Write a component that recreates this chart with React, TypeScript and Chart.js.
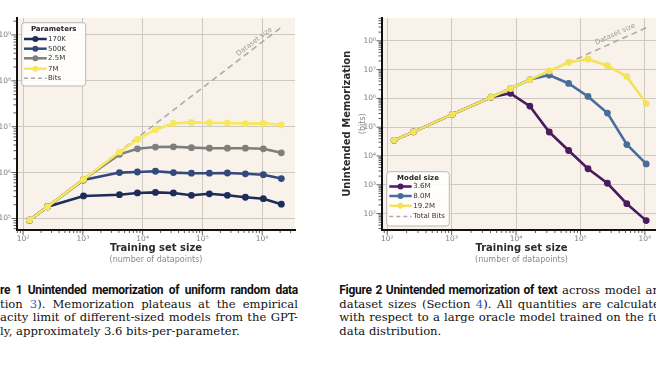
import React, { useEffect, useRef } from 'react';
import { Chart, registerables } from 'chart.js';

Chart.register(...registerables);

// ---------- Figure 1 data (uniform random data) ----------
const fig1X = [128, 256, 1024, 4096, 8192, 16384, 32768, 65536, 131072, 262144, 524288, 1048576, 2097152];
const fig1P170K = [9.2e4, 1.8e5, 3.1e5, 3.3e5, 3.6e5, 3.7e5, 3.6e5, 3.2e5, 3.45e5, 3.2e5, 2.9e5, 2.7e5, 2.05e5];
const fig1P500K = [9.2e4, 1.8e5, 6.9e5, 1.0e6, 1.03e6, 1.07e6, 1.0e6, 0.97e6, 0.97e6, 0.98e6, 0.94e6, 0.9e6, 7.4e5];
const fig1P2_5M = [9.2e4, 1.8e5, 7.1e5, 2.5e6, 3.3e6, 3.6e6, 3.65e6, 3.5e6, 3.4e6, 3.4e6, 3.4e6, 3.3e6, 2.7e6];
const fig1P7M = [9.2e4, 1.8e5, 7.1e5, 2.8e6, 5.3e6, 8.6e6, 1.18e7, 1.24e7, 1.22e7, 1.2e7, 1.17e7, 1.18e7, 1.1e7];
const fig1BitsX = [128, 2097152];
const fig1BitsY = [9.0e4, 1.47e9];
const fig1Labels = ['170K', '500K', '2.5M', '7M', 'Bits'];

// ---------- Figure 2 data (text) ----------
const fig2X = [128, 256, 1024, 4096, 8192, 16384, 32768, 65536, 131072, 262144, 524288, 1048576];
const fig2M3_6 = [3.5e4, 6.9e4, 2.8e5, 1.1e6, 1.5e6, 5.4e5, 6.8e4, 1.55e4, 3.6e3, 1.13e3, 2.2e2, 57];
const fig2M8_0 = [3.5e4, 6.9e4, 2.8e5, 1.1e6, 2.2e6, 4.5e6, 6.5e6, 3.3e6, 1.17e6, 3.1e5, 2.5e4, 5.3e3];
const fig2M19_2 = [3.5e4, 6.9e4, 2.8e5, 1.1e6, 2.2e6, 4.5e6, 9.0e6, 1.8e7, 2.3e7, 1.36e7, 5.8e6, 6.6e5];
const fig2BitsX = [128, 1048576];
const fig2BitsY = [3.46e4, 2.83e8];
const fig2Labels = ['3.6M', '8.0M', '19.2M', 'Total Bits'];

const SUP = ['⁰', '¹', '²', '³', '⁴', '⁵', '⁶', '⁷', '⁸', '⁹'];
const GRID = '#cdc8c1';
const BG = '#f8f2ea';
const FONT = '"DejaVu Sans", sans-serif';

function isPow10(v: number) {
  if (!(v > 0)) return false;
  const e = Math.round(Math.log10(v));
  return Math.abs(v / Math.pow(10, e) - 1) < 1e-6;
}
function pow10Label(v: number) {
  if (!isPow10(v)) return '';
  const e = Math.round(Math.log10(v));
  return '10' + String(e).split('').map((c) => SUP[+c]).join('');
}

type Series = { label: string; color: string; xs: number[]; ys: number[]; dashed?: boolean; order: number };
type LegendSpec = { box: [number, number, number, number]; title: string; titleY: number; itemsY: number[]; lineX: [number, number]; textX: number };
type PanelSpec = {
  left: number; width: number; height: number;
  padding: { left: number; right: number; top: number; bottom: number };
  yWidth: number; xHeight: number;
  xMin: number; xMax: number; yMin: number; yMax: number;
  series: Series[];
  legend: LegendSpec;
  dsText: { x: number; y: number };
  yTitle: boolean;
};

function roundRect(ctx: CanvasRenderingContext2D, x: number, y: number, w: number, h: number, r: number) {
  ctx.beginPath();
  ctx.moveTo(x + r, y);
  ctx.lineTo(x + w - r, y);
  ctx.arcTo(x + w, y, x + w, y + r, r);
  ctx.lineTo(x + w, y + h - r);
  ctx.arcTo(x + w, y + h, x + w - r, y + h, r);
  ctx.lineTo(x + r, y + h);
  ctx.arcTo(x, y + h, x, y + h - r, r);
  ctx.lineTo(x, y + r);
  ctx.arcTo(x, y, x + r, y, r);
  ctx.closePath();
}

function makePlugin(spec: PanelSpec) {
  return {
    id: 'panelExtras',
    beforeDraw(chart: any) {
      const { ctx, chartArea: a } = chart;
      ctx.save();
      ctx.fillStyle = BG;
      ctx.fillRect(a.left, a.top, a.right - a.left, a.bottom - a.top);
      ctx.restore();
    },
    afterDraw(chart: any) {
      const { ctx, chartArea: a } = chart;
      const xs = chart.scales.x;
      const ys = chart.scales.y;
      ctx.save();
      const eachTick = (scale: any, cb: (p: number, major: boolean) => void) => {
        const e0 = Math.floor(Math.log10(scale.min));
        const e1 = Math.ceil(Math.log10(scale.max));
        for (let e = e0; e <= e1; e++) {
          for (let m = 1; m <= 9; m++) {
            const v = m * Math.pow(10, e);
            if (v < scale.min || v > scale.max) continue;
            cb(scale.getPixelForValue(v), m === 1);
          }
        }
      };
      ctx.strokeStyle = '#333';
      ctx.lineWidth = 0.8;
      ctx.beginPath();
      eachTick(xs, (p, major) => {
        const l = major ? 4.5 : 2.5;
        ctx.moveTo(p, a.bottom + 1);
        ctx.lineTo(p, a.bottom + 1 + l);
      });
      eachTick(ys, (p, major) => {
        const l = major ? 4.5 : 2.5;
        ctx.moveTo(a.left - 1, p);
        ctx.lineTo(a.left - 1 - l, p);
      });
      ctx.stroke();

      const bits = spec.series.find((s) => s.dashed)!;
      const ang = Math.atan2(
        ys.getPixelForValue(bits.ys[1]) - ys.getPixelForValue(bits.ys[0]),
        xs.getPixelForValue(bits.xs[1]) - xs.getPixelForValue(bits.xs[0])
      );
      ctx.save();
      ctx.translate(xs.getPixelForValue(spec.dsText.x), ys.getPixelForValue(spec.dsText.y));
      ctx.rotate(ang);
      ctx.fillStyle = '#9c9c9c';
      ctx.font = `7px ${FONT}`;
      ctx.textAlign = 'center';
      ctx.textBaseline = 'middle';
      ctx.fillText('Dataset size', 0, 0);
      ctx.restore();

      const L = spec.legend;
      const [bx, by, bw, bh] = L.box;
      roundRect(ctx, bx, by, bw, bh, 3);
      ctx.fillStyle = 'rgba(255,255,255,0.88)';
      ctx.fill();
      ctx.strokeStyle = '#b8b8b8';
      ctx.lineWidth = 1;
      ctx.stroke();
      ctx.fillStyle = '#222';
      ctx.font = `bold 7px ${FONT}`;
      ctx.textAlign = 'center';
      ctx.textBaseline = 'middle';
      ctx.fillText(L.title, bx + bw / 2, L.titleY);
      spec.series.forEach((s, i) => {
        const y = L.itemsY[i];
        const [x0, x1] = L.lineX;
        ctx.beginPath();
        ctx.moveTo(x0, y);
        ctx.lineTo(x1, y);
        if (s.dashed) {
          ctx.setLineDash([4, 3]);
          ctx.strokeStyle = s.color;
          ctx.lineWidth = 1.5;
          ctx.stroke();
          ctx.setLineDash([]);
        } else {
          ctx.strokeStyle = s.color;
          ctx.lineWidth = 2.5;
          ctx.stroke();
          ctx.beginPath();
          ctx.arc((x0 + x1) / 2, y, 3, 0, Math.PI * 2);
          ctx.fillStyle = s.color;
          ctx.fill();
        }
        ctx.fillStyle = '#333';
        ctx.font = `7px ${FONT}`;
        ctx.textAlign = 'left';
        ctx.fillText(s.label, L.textX, y);
      });

      const cx = (a.left + a.right) / 2;
      ctx.textAlign = 'center';
      ctx.textBaseline = 'middle';
      ctx.fillStyle = '#2b2b2b';
      ctx.font = `bold 10px ${FONT}`;
      ctx.fillText('Training set size', cx, 248.5);
      ctx.fillStyle = '#8a8a8a';
      ctx.font = `8px ${FONT}`;
      ctx.fillText('(number of datapoints)', cx, 260);
      if (spec.yTitle) {
        const cy = (a.top + a.bottom) / 2;
        ctx.save();
        ctx.translate(17, cy);
        ctx.rotate(-Math.PI / 2);
        ctx.fillStyle = '#2b2b2b';
        ctx.font = `bold 10px ${FONT}`;
        ctx.fillText('Unintended Memorization', 0, 0);
        ctx.restore();
        ctx.save();
        ctx.translate(33, cy);
        ctx.rotate(-Math.PI / 2);
        ctx.fillStyle = '#8a8a8a';
        ctx.font = `8px ${FONT}`;
        ctx.fillText('(bits)', 0, 0);
        ctx.restore();
      }
      ctx.restore();
    },
  };
}

function Panel({ spec }: { spec: PanelSpec }) {
  const ref = useRef<HTMLCanvasElement>(null);
  useEffect(() => {
    const gridColor = (c: any) => (c.tick && isPow10(c.tick.value) ? GRID : 'rgba(0,0,0,0)');
    const tickStyle = {
      autoSkip: false,
      maxRotation: 0,
      minRotation: 0,
      font: { size: 7.5, family: FONT },
      color: '#7d7d7d',
      callback: (v: any) => pow10Label(Number(v)),
    };
    const chart = new Chart(ref.current as HTMLCanvasElement, {
      type: 'line',
      data: {
        datasets: spec.series.map((s) => ({
          label: s.label,
          data: s.xs.map((x, i) => ({ x, y: s.ys[i] })),
          borderColor: s.color,
          backgroundColor: s.color,
          borderWidth: s.dashed ? 1.6 : 2.6,
          borderDash: s.dashed ? [6, 4] : [],
          pointRadius: s.dashed ? 0 : 3.4,
          pointBorderWidth: 0,
          pointBackgroundColor: s.color,
          tension: 0,
          order: s.order,
          fill: false,
        })),
      },
      options: {
        responsive: false,
        maintainAspectRatio: false,
        animation: false,
        devicePixelRatio: 1,
        layout: { padding: spec.padding },
        plugins: { legend: { display: false }, tooltip: { enabled: false }, title: { display: false } },
        scales: {
          x: {
            type: 'logarithmic',
            min: spec.xMin,
            max: spec.xMax,
            afterFit: (s: any) => { s.height = spec.xHeight; },
            grid: { color: gridColor, lineWidth: 1, drawTicks: false },
            border: { display: true, color: '#111', width: 2 },
            ticks: { ...tickStyle, padding: 5 },
          },
          y: {
            type: 'logarithmic',
            min: spec.yMin,
            max: spec.yMax,
            afterFit: (s: any) => { s.width = spec.yWidth; },
            grid: { color: gridColor, lineWidth: 1, drawTicks: false },
            border: { display: true, color: '#111', width: 2 },
            ticks: { ...tickStyle, padding: 6 },
          },
        },
      } as any,
      plugins: [makePlugin(spec)],
    });
    return () => chart.destroy();
  }, [spec]);
  return (
    <canvas
      ref={ref}
      width={spec.width}
      height={spec.height}
      style={{ position: 'absolute', left: spec.left, top: 0, width: spec.width, height: spec.height }}
    />
  );
}

const fig1Spec: PanelSpec = {
  left: -13, width: 313, height: 270,
  padding: { left: 0, right: 5, top: 18, bottom: 0 },
  yWidth: 30, xHeight: 40.5,
  xMin: 79, xMax: 3.55e6, yMin: 5.75e4, yMax: 2.34e9,
  series: [
    { label: fig1Labels[0], color: '#1c2d59', xs: fig1X, ys: fig1P170K, order: 4 },
    { label: fig1Labels[1], color: '#33497b', xs: fig1X, ys: fig1P500K, order: 3 },
    { label: fig1Labels[2], color: '#7e7e7c', xs: fig1X, ys: fig1P2_5M, order: 2 },
    { label: fig1Labels[3], color: '#f6e75c', xs: fig1X, ys: fig1P7M, order: 1 },
    { label: fig1Labels[4], color: '#ababab', xs: fig1BitsX, ys: fig1BitsY, dashed: true, order: 10 },
  ],
  legend: {
    box: [34.7, 22.7, 64, 63.3],
    title: 'Parameters',
    titleY: 29.5,
    itemsY: [39, 48.7, 58.3, 68.7, 78.3],
    lineX: [37, 59.7],
    textX: 61,
  },
  dsText: { x: 7.4e5, y: 7.1e8 },
  yTitle: false,
};

const fig2Spec: PanelSpec = {
  left: 330, width: 340, height: 270,
  padding: { left: 0, right: 9, top: 18, bottom: 0 },
  yWidth: 52, xHeight: 40.5,
  xMin: 83, xMax: 1.78e6, yMin: 28, yMax: 6.2e8,
  series: [
    { label: fig2Labels[0], color: '#4a1b5d', xs: fig2X, ys: fig2M3_6, order: 3 },
    { label: fig2Labels[1], color: '#476e9b', xs: fig2X, ys: fig2M8_0, order: 2 },
    { label: fig2Labels[2], color: '#f4e35a', xs: fig2X, ys: fig2M19_2, order: 1 },
    { label: fig2Labels[3], color: '#ababab', xs: fig2BitsX, ys: fig2BitsY, dashed: true, order: 10 },
  ],
  legend: {
    box: [56.7, 171.7, 62.6, 54.3],
    title: 'Model size',
    titleY: 177.8,
    itemsY: [186.5, 196, 205.8, 216.5],
    lineX: [59.3, 81.7],
    textX: 83.3,
  },
  dsText: { x: 3.47e5, y: 1.7e8 },
  yTitle: true,
};

const serif = '"DejaVu Serif", "Liberation Serif", serif';
const sansBold = 'Roboto, "Open Sans", sans-serif';
const LINK = '#3158d4';

const lineStyle = (justify: boolean): React.CSSProperties => ({
  height: 13.6,
  lineHeight: '13.6px',
  whiteSpace: 'nowrap',
  textAlign: justify ? 'justify' : 'left',
  textAlignLast: justify ? 'justify' : 'left',
  overflow: 'visible',
});
const boldSpan: React.CSSProperties = { fontFamily: sansBold, fontWeight: 700, fontSize: 12, letterSpacing: -0.3, color: '#111' };

export default function App() {
  return (
    <div style={{ position: 'fixed', left: 0, top: 0, width: 656, height: 369, overflow: 'hidden', background: '#fff' }}>
      <Panel spec={fig1Spec} />
      <Panel spec={fig2Spec} />
      <div style={{ position: 'absolute', left: 0, top: 284, width: 298, fontFamily: serif, fontSize: 11.6, color: '#111' }}>
        <div style={lineStyle(true)}><span style={boldSpan}>re 1  Unintended memorization of uniform random data</span></div>
        <div style={lineStyle(true)}>tion <span style={{ color: LINK }}>3</span>).  Memorization plateaus at the empirical</div>
        <div style={lineStyle(true)}>acity limit of different-sized models from the GPT-</div>
        <div style={lineStyle(false)}>ly, approximately 3.6 bits-per-parameter.</div>
      </div>
      <div style={{ position: 'absolute', left: 339.3, top: 284, width: 328, fontFamily: serif, fontSize: 11.6, color: '#111' }}>
        <div style={lineStyle(true)}><span style={boldSpan}>Figure 2  Unintended memorization of text</span> across model and</div>
        <div style={lineStyle(true)}>dataset sizes (Section <span style={{ color: LINK }}>4</span>).  All quantities are calculated</div>
        <div style={lineStyle(true)}>with respect to a large oracle model trained on the full</div>
        <div style={lineStyle(false)}>data distribution.</div>
      </div>
    </div>
  );
}
